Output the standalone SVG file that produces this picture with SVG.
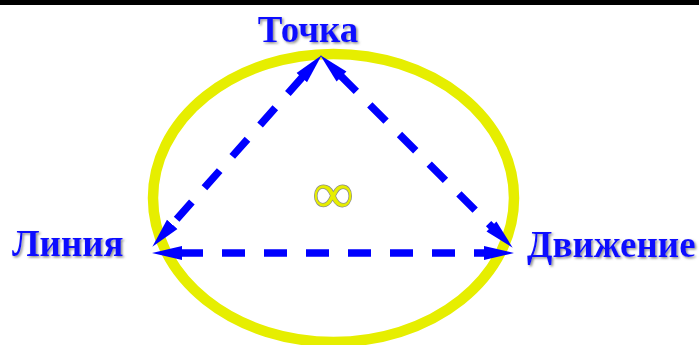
<svg xmlns="http://www.w3.org/2000/svg" width="699" height="345" viewBox="0 0 699 345">
  <style>
    .lbl { font-family: "Liberation Serif", "Times New Roman", serif; font-weight: bold; font-size: 37px; fill: #1010ff; filter: url(#shadow); }
    .edge { fill: none; stroke: #0000ff; stroke-width: 7.5; stroke-dasharray: 23 19; marker-start: url(#arr); marker-end: url(#arr); }
    .inf { font-family: "Liberation Serif", "DejaVu Serif", serif; font-weight: bold; font-size: 56px; fill: #e6ee00; stroke: #8a8a8a; stroke-width: 1.5; paint-order: stroke; }
  </style>
  <defs>
    <filter id="shadow" x="-10%" y="-20%" width="130%" height="150%">
      <feDropShadow dx="1.5" dy="1.5" stdDeviation="0.9" flood-color="#808080" flood-opacity="0.9"/>
    </filter>
    <marker id="arr" markerUnits="userSpaceOnUse" markerWidth="31" markerHeight="16" viewBox="0 0 31 16" refX="2" refY="8" orient="auto-start-reverse">
      <path d="M0,1 L30,8 L0,15 z" fill="#0000ff"/>
    </marker>
  </defs>
  <rect x="0" y="0" width="699" height="5" fill="#000"/>
  <g id="ellipse">
    <ellipse cx="333.5" cy="198" rx="180.5" ry="144" fill="none" stroke="#e6ee00" stroke-width="10.5"/>
  </g>
  <g id="connectors">
    <line class="edge" x1="303.1" y1="76.2" x2="170.9" y2="225.8"/>
    <line class="edge" x1="340.1" y1="75.1" x2="492.9" y2="227.9"/>
    <line class="edge" x1="180" y1="253" x2="486" y2="253"/>
  </g>
  <g id="node-tochka">
    <text class="lbl" x="308" y="42" text-anchor="middle">Точка</text>
  </g>
  <g id="node-liniya">
    <text class="lbl" x="12" y="256">Линия</text>
  </g>
  <g id="node-dvizhenie">
    <text class="lbl" x="527" y="257">Движение</text>
  </g>
  <g id="center">
    <text class="inf" x="333" y="212" text-anchor="middle">∞</text>
  </g>
</svg>
